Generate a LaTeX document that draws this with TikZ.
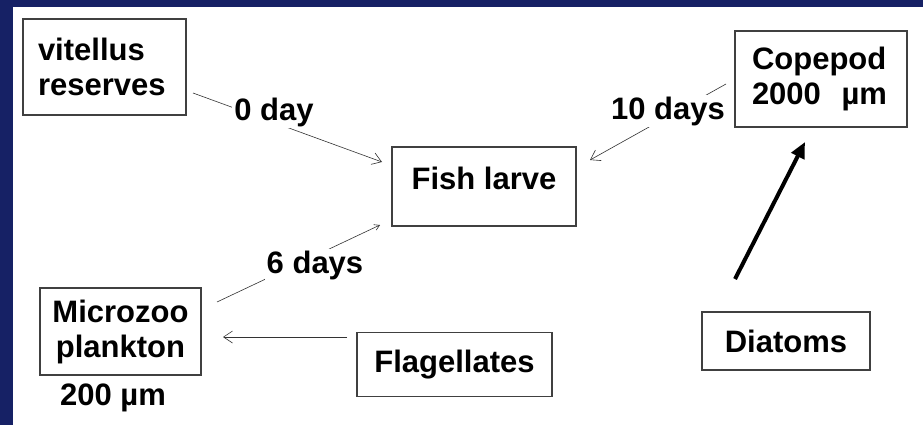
\documentclass[tikz,border=0pt]{standalone}
\usepackage{fontspec}
\setmainfont{Liberation Sans}
\usetikzlibrary{arrows.meta}
\definecolor{navy}{RGB}{22,33,101}
\begin{document}
\begin{tikzpicture}[x=1pt,y=-1pt,
  boxnode/.style={draw=black!75,line width=1.2pt,fill=white,inner sep=0pt,font=\fontsize{31}{35}\selectfont\bfseries},
  plaintxt/.style={inner sep=0pt,font=\fontsize{31}{35}\selectfont\bfseries},
  lbl/.style={fill=white,inner sep=2pt,font=\fontsize{31}{35}\selectfont\bfseries},
  thin arrow/.style={draw=black!80,line width=0.6pt,-{Straight Barb[length=9pt,width=12pt,line width=0.6pt]}},
  thick arrow/.style={draw=black,line width=4pt,-{Triangle[length=16pt,width=14pt]}}]
\useasboundingbox (0,0) rectangle (923,425);
\fill[navy] (0,0) rectangle (923,425);
\fill[white] (13,7) rectangle (923,425);
% boxes
\node[boxnode,minimum width=163pt,minimum height=96pt,align=left,text width=133pt] (vit) at (104.5,67) {vitellus\\reserves};
\node[boxnode,minimum width=172pt,minimum height=96pt,align=left,text width=138pt] (cop) at (821,79) {Copepod\\2000\ \ µm};
\node[boxnode,minimum width=184pt,minimum height=79pt] (fish) at (484,186.5) {};
\node[plaintxt] (fishtxt) at (484,178) {Fish larve};
\node[boxnode,minimum width=161pt,minimum height=87pt,align=center] (micro) at (120.5,331.5) {Microzoo\\plankton};
\node[plaintxt] (microsize) at (113,398) {200 µm};
\node[boxnode,minimum width=195pt,minimum height=64pt] (flag) at (454.5,364.5) {Flagellates};
\node[boxnode,minimum width=168pt,minimum height=58pt] (diat) at (786,341) {Diatoms};
% endpoints
\coordinate (a1) at (193,93);
\coordinate (a2) at (382,162);
\coordinate (b1) at (726,84);
\coordinate (b2) at (590,160);
\coordinate (c1) at (217,302);
\coordinate (c2) at (380,225);
\coordinate (d1) at (347,337);
\coordinate (d2) at (223,337);
\coordinate (e1) at (735,279);
\coordinate (e2) at (805,142);
% connectors
\draw[thin arrow] (a1) -- (a2);
\node[lbl] (l0) at (274,112) {0 day};
\draw[thin arrow] (b1) -- (b2);
\node[lbl] (l10) at (668,111) {10 days};
\draw[thin arrow,-{Straight Barb[length=5pt,width=6pt,line width=0.6pt]}] (c1) -- (c2);
\node[lbl] (l6) at (315,265) {6 days};
\draw[thin arrow] (d1) -- (d2);
\draw[thick arrow] (e1) -- (e2);
\end{tikzpicture}
\end{document}
